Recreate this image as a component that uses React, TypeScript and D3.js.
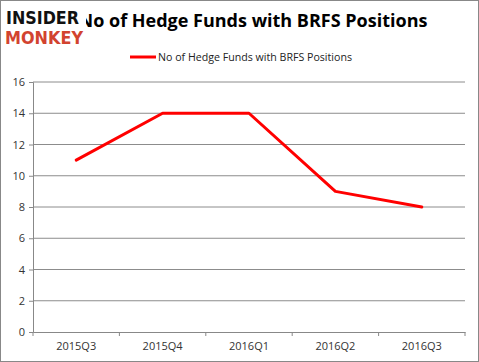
import { useEffect, useMemo, useRef } from 'react';
import * as d3 from 'd3';

const WIDTH = 479;
const HEIGHT = 362;
const MARGIN = { top: 82, right: 14, bottom: 30, left: 33 };

const quarters = ['2015Q3', '2015Q4', '2016Q1', '2016Q2', '2016Q3'];
const fundCounts = [11, 14, 14, 9, 8];
const yTicks = [0, 2, 4, 6, 8, 10, 12, 14, 16];

const TITLE = 'No of Hedge Funds with BRFS Positions';
const FONT = '"Open Sans", "DejaVu Sans", sans-serif';

export default function App() {
  const axisLeftRef = useRef<SVGGElement>(null);
  const axisBottomRef = useRef<SVGGElement>(null);

  const innerWidth = WIDTH - MARGIN.left - MARGIN.right;
  const innerHeight = HEIGHT - MARGIN.top - MARGIN.bottom;

  const x = useMemo(
    () => d3.scaleBand<string>().domain(quarters).range([0, innerWidth]),
    [innerWidth]
  );
  const y = useMemo(
    () => d3.scaleLinear().domain([0, 16]).range([innerHeight, 0]),
    [innerHeight]
  );

  useEffect(() => {
    document.body.style.margin = '0';
    const left = d3.select(axisLeftRef.current!);
    left.call(d3.axisLeft(y).tickValues(yTicks).tickSize(4).tickPadding(4));
    left.select('.domain').attr('stroke', '#888');
    left.selectAll('line').attr('stroke', '#888');
    left.selectAll('text').attr('fill', '#333').style('font-size', '11px').style('font-family', FONT);

    const bottom = d3.select(axisBottomRef.current!);
    bottom.call(d3.axisBottom(x).tickSize(0).tickPadding(10));
    bottom.select('.domain').attr('stroke', '#888');
    bottom.selectAll('text').attr('fill', '#333').style('font-size', '11px').style('font-family', FONT);
  }, [x, y]);

  const line = d3
    .line<number>()
    .x((_, i) => (x(quarters[i]) ?? 0) + x.bandwidth() / 2)
    .y((d) => y(d));

  const boundaries = d3.range(quarters.length + 1).map((i) => i * x.step());

  return (
    <svg width={WIDTH} height={HEIGHT} style={{ display: 'block' }}>
      <rect x={0.5} y={0.5} width={WIDTH - 1} height={HEIGHT - 1} fill="#fff" stroke="#888" />
      <text
        x={253}
        y={27}
        textAnchor="middle"
        style={{ fontFamily: FONT, fontWeight: 700, fontSize: '18px' }}
        fill="#000"
      >
        {TITLE}
      </text>
      {/* logo */}
      <rect x={4} y={6} width={82} height={40} fill="#fff" />
      <text x={6} y={24} textLength={73} lengthAdjust="spacingAndGlyphs"
        style={{ fontFamily: '"DejaVu Sans", sans-serif', fontWeight: 700, fontSize: '17px' }} fill="#111">
        INSIDER
      </text>
      <text x={5} y={44} textLength={78} lengthAdjust="spacingAndGlyphs"
        style={{ fontFamily: '"DejaVu Sans", sans-serif', fontWeight: 700, fontSize: '18px' }} fill="#d2432f">
        MONKEY
      </text>
      {/* legend */}
      <line x1={130} x2={156} y1={57} y2={57} stroke="#ff0000" strokeWidth={3} />
      <text x={158} y={61} textLength={194} lengthAdjust="spacingAndGlyphs"
        style={{ fontFamily: FONT, fontSize: '11px' }} fill="#222">
        {TITLE}
      </text>
      <g transform={`translate(${MARGIN.left},${MARGIN.top})`}>
        {yTicks.slice(1).map((t) => (
          <line key={t} x1={0} x2={innerWidth} y1={y(t)} y2={y(t)} stroke="#8c8c8c" />
        ))}
        {boundaries.map((b) => (
          <line key={b} x1={b} x2={b} y1={innerHeight} y2={innerHeight + 4} stroke="#888" />
        ))}
        <g ref={axisLeftRef} />
        <g ref={axisBottomRef} transform={`translate(0,${innerHeight})`} />
        <path d={line(fundCounts) ?? ''} fill="none" stroke="#ff0000" strokeWidth={3} strokeLinejoin="round" strokeLinecap="round" />
      </g>
    </svg>
  );
}
